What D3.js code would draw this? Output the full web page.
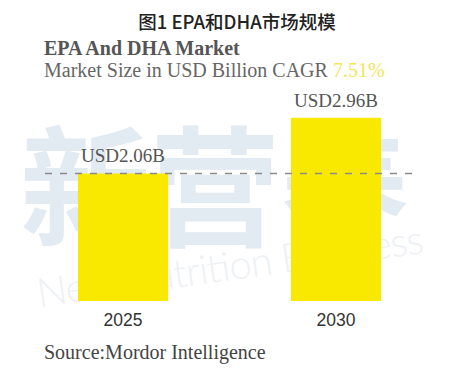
<!DOCTYPE html>
<html>
<head>
<meta charset="utf-8">
<script src="https://cdn.jsdelivr.net/npm/d3@7"></script>
<style>
  body { margin: 0; background: #fff; }
  svg { display: block; }
</style>
</head>
<body>
<svg id="chart"></svg>
<script>
// data
const years = ["2025", "2030"];
const values = [2.06, 2.96];
const valueLabels = ["USD2.06B", "USD2.96B"];
const chartTitle = "图1 EPA和DHA市场规模";
const heading = "EPA And DHA Market";
const subtitle = "Market Size in USD Billion CAGR ";
const cagr = "7.51%";
const source = "Source:Mordor Intelligence";

const width = 457, height = 369;

const svg = d3.select("#chart")
  .attr("width", width)
  .attr("height", height);

const serif = "'Liberation Serif', 'Times New Roman', serif";

// watermark
svg.append("text")
  .attr("x", 215)
  .attr("y", 236)
  .attr("text-anchor", "middle")
  .style("font-family", "'Noto Sans CJK SC'")
  .style("font-weight", "700")
  .style("font-size", "130px")
  .style("fill", "#e2eaf2")
  .text("新营养");

svg.append("text")
  .attr("transform", "translate(232,280) rotate(-8)")
  .attr("text-anchor", "middle")
  .attr("textLength", 390)
  .style("font-family", "Lato")
  .style("font-weight", "300")
  .style("font-size", "40px")
  .style("fill", "#eef1f4")
  .text("New Nutrition Business");

// scales
const x = d3.scaleBand()
  .domain(years)
  .range([16.5, 442.5])
  .paddingInner(0.577)
  .paddingOuter(0.2885);

const y = d3.scaleLinear()
  .domain([0, 3])
  .range([301, 115.3]);

// bars
svg.selectAll(".bar")
  .data(years)
  .enter().append("rect")
  .attr("class", "bar")
  .attr("x", d => x(d))
  .attr("y", (d, i) => y(values[i]))
  .attr("width", x.bandwidth())
  .attr("height", (d, i) => y(0) - y(values[i]))
  .style("fill", "#f9e800");

// dashed reference line at first value
svg.append("line")
  .attr("x1", 45)
  .attr("x2", 415)
  .attr("y1", y(values[0]))
  .attr("y2", y(values[0]))
  .style("stroke", "#8a8a8a")
  .style("stroke-width", 1.5)
  .style("stroke-dasharray", "7,8");

// value labels
svg.selectAll(".vlabel")
  .data(years)
  .enter().append("text")
  .attr("class", "vlabel")
  .attr("x", d => x(d) + x.bandwidth() / 2)
  .attr("y", (d, i) => y(values[i]) - 11)
  .attr("text-anchor", "middle")
  .style("font-family", serif)
  .style("font-size", "19px")
  .style("fill", "#555")
  .text((d, i) => valueLabels[i]);

// x axis labels
const xAxis = d3.axisBottom(x).tickSize(0).tickPadding(13);
const gx = svg.append("g")
  .attr("transform", "translate(0,301)")
  .call(xAxis);
gx.select(".domain").remove();
gx.selectAll("text")
  .style("font-family", "'Liberation Sans', Arial, sans-serif")
  .style("font-size", "17.5px")
  .style("fill", "#333");

// titles
svg.append("text")
  .attr("x", 237)
  .attr("y", 29)
  .attr("text-anchor", "middle")
  .style("font-family", "'Noto Sans CJK SC'")
  .style("font-weight", "500")
  .style("font-size", "18.5px")
  .style("fill", "#222")
  .text(chartTitle);

svg.append("text")
  .attr("x", 44)
  .attr("y", 55)
  .style("font-family", serif)
  .style("font-weight", "bold")
  .style("font-size", "20px")
  .style("fill", "#555")
  .text(heading);

const sub = svg.append("text")
  .attr("x", 44)
  .attr("y", 77)
  .style("font-family", serif)
  .style("font-size", "20px")
  .style("fill", "#666")
  .text(subtitle);
sub.append("tspan")
  .style("fill", "#f2e55a")
  .text(cagr);

svg.append("text")
  .attr("x", 44)
  .attr("y", 359)
  .style("font-family", serif)
  .style("font-size", "20px")
  .style("fill", "#444")
  .text(source);
</script>
</body>
</html>
